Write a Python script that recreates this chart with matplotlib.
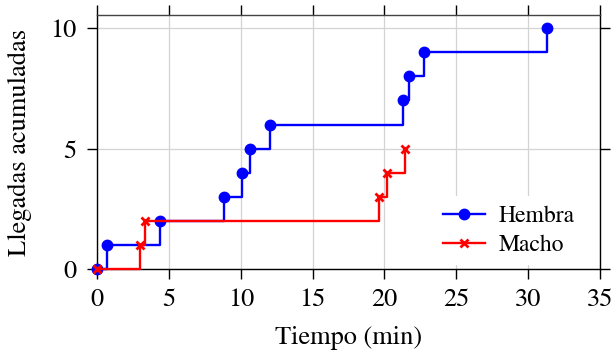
import matplotlib.pyplot as plt

# arrival times (min) and cumulative counts
t_hembra = [0, 0.65, 4.35, 8.85, 10.1, 10.65, 12.0, 21.3, 21.7, 22.75, 31.3]
n_hembra = [0, 1, 2, 3, 4, 5, 6, 7, 8, 9, 10]
t_macho = [0, 3.0, 3.3, 19.6, 20.15, 21.4]
n_macho = [0, 1, 2, 3, 4, 5]

xticks = [0, 5, 10, 15, 20, 25, 30, 35]
yticks = [0, 5, 10]

plt.rcParams['font.family'] = ['STIXGeneral', 'Liberation Serif', 'DejaVu Serif']

fig = plt.figure(figsize=(6.14, 3.56), dpi=100)
ax = fig.add_axes([0.1585, 0.2444, 0.8185, 0.7136])

ax.plot(t_hembra, n_hembra, drawstyle='steps-post', color='#0000ff', lw=1.7,
        marker='o', ms=7.5, label='Hembra', zorder=3, clip_on=False)
ax.plot(t_macho, n_macho, drawstyle='steps-post', color='#ff0000', lw=1.7,
        marker='x', ms=6, mew=2, label='Macho', zorder=4, clip_on=False)

ax.set_xlim(0, 35)
ax.set_ylim(0, 10.55)
ax.set_xticks(xticks)
ax.set_yticks(yticks)
ax.grid(True, color='#d3d3d3', lw=0.9)
ax.set_axisbelow(True)

ax.tick_params(direction='out', length=7.5, width=1, labelsize=19,
               top=True, right=True)
ax.tick_params(axis='x', pad=6)
ax.tick_params(axis='y', pad=7.5)
for s in ax.spines.values():
    s.set_linewidth(1)
ax.spines['top'].set_color('#444444')

ax.set_xlabel('Tiempo (min)', fontsize=19, labelpad=10)
ax.set_ylabel('Llegadas acumuladas', fontsize=19, labelpad=13)

leg = ax.legend(loc='lower right', bbox_to_anchor=(0.969, 0.014),
                fontsize=17, frameon=True, fancybox=False,
                framealpha=1, edgecolor='white', handlelength=1.75,
                borderaxespad=0, labelspacing=0.3, handletextpad=0.6)
leg.get_frame().set_linewidth(0)

fig.savefig('out.png', dpi=100)
